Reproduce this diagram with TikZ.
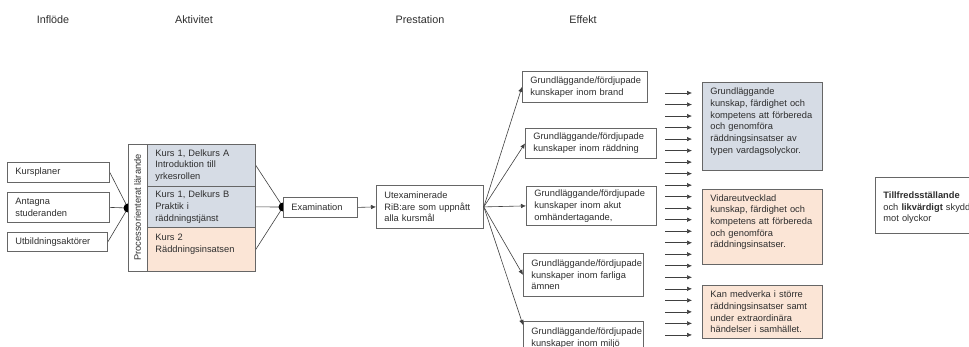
\documentclass[tikz,border=0pt]{standalone}
\usepackage{fontspec}
\setmainfont{Liberation Sans}
\usetikzlibrary{arrows.meta,calc,backgrounds}
\definecolor{bluebox}{HTML}{D6DCE5}
\definecolor{pinkbox}{HTML}{FBE5D6}
\definecolor{edge}{HTML}{666666}
\definecolor{ink}{HTML}{2E2E2E}
\definecolor{wire}{HTML}{404040}
\tikzset{
  bx/.code 2 args={\pgfmathsetmacro\bxw{#1-16}%
    \edef\bxtmp{\noexpand\tikzset{text width=\bxw pt}}\bxtmp
    \tikzset{draw=edge, line width=0.8pt, fill=white, anchor=north west, align=left,
      inner xsep=8pt, inner ysep=0pt, minimum width=#1pt, minimum height=#2pt}},
  hdr/.style={font=\fontsize{10.8}{13}\selectfont},
  arr/.style={draw=wire, line width=0.6pt, -{Latex[length=5pt,width=4.5pt]}},
  wirel/.style={draw=wire, line width=0.6pt},
  knob/.style={fill=black}
}
\begin{document}
\begin{tikzpicture}[x=1pt,y=-1pt,font=\fontsize{9.3}{11.7}\selectfont,text=ink]
\useasboundingbox (0,0) rectangle (969,347);
\clip (0,0) rectangle (969,347);

% headers
\node[hdr] (hInf) at (53,20) {Inflöde};
\node[hdr] (hAkt) at (194,20) {Aktivitet};
\node[hdr] (hPre) at (420,20) {Prestation};
\node[hdr] (hEff) at (583,20) {Effekt};

% inflow
\node[bx={102}{20}] (kp) at (7,162) {Kursplaner};
\node[bx={102}{30}] (as) at (7,192) {Antagna\\studeranden};
\node[bx={100}{19}] (ua) at (7,232) {Utbildningsaktörer};

% activity
\node[draw=edge, line width=0.8pt, fill=white, rotate=90, minimum width=127pt,
      minimum height=19pt, inner sep=0pt] (proc) at (137.5,207.5) {Processorienterat lärande};
\node[bx={108}{42}, fill=bluebox] (c1) at (147,144) {Kurs 1, Delkurs A\\Introduktion till\\yrkesrollen};
\node[bx={108}{41}, fill=bluebox] (c2) at (147,186) {Kurs 1, Delkurs B\\Praktik i\\räddningstjänst};
\node[bx={108}{44}, fill=pinkbox] (c3) at (147,227) {Kurs 2\\Räddningsinsatsen\\\mbox{}};

\coordinate (J1) at (128,208);
\coordinate (J2) at (283,207);

% performance
\node[bx={74}{20}] (ex) at (283,197) {Examination};
\node[bx={107}{43}] (ut) at (376,185) {Utexaminerade\\RiB:are som uppnått\\alla kursmål};

% effect
\node[bx={125}{31}] (e1) at (522,71) {Grundläggande/fördjupade\\kunskaper inom brand};
\node[bx={131}{30}] (e2) at (525,128) {Grundläggande/fördjupade\\kunskaper inom räddning};
\node[bx={130}{39}] (e3) at (526,186) {Grundläggande/fördjupade\\kunskaper inom akut\\omhändertagande,};
\node[bx={120}{43}] (e4) at (523,253) {Grundläggande/fördjupade\\kunskaper inom farliga\\ämnen};
\node[bx={120}{33}] (e5) at (523,321) {Grundläggande/fördjupade\\kunskaper inom miljö};

\node[bx={120}{88}, fill=bluebox] (r1) at (702,82) {Grundläggande\\kunskap, färdighet och\\kompetens att förbereda\\och genomföra\\räddningsinsatser av\\typen vardagsolyckor.\\\mbox{}};
\node[bx={120}{75}, fill=pinkbox] (r2) at (702,189) {Vidareutvecklad\\kunskap, färdighet och\\kompetens att förbereda\\och genomföra\\räddningsinsatser.\\\mbox{}};
\node[bx={120}{53}, fill=pinkbox] (r3) at (702,285) {Kan medverka i större\\räddningsinsatser samt\\under extraordinära\\händelser i samhället.};

\node[bx={130}{56}] (fin) at (875,177) {\mbox{}\\\textbf{Tillfredsställande}\\och \textbf{likvärdigt} skydd\\mot olyckor};

\begin{scope}[on background layer]
  \fill[white] (0,0) rectangle (969,347);
  \draw[wirel] (kp.east) -- (J1);
  \draw[wirel] (as.east) -- (J1);
  \draw[wirel] (ua.east) -- (J1);
  \fill[knob] (J1) circle[radius=4.5pt];
  \draw[wirel] (c1.east) -- (J2);
  \draw[wirel] (c2.east) -- (J2);
  \draw[wirel] (c3.east) -- (J2);
  \fill[knob] (J2) circle[radius=4.5pt];
\end{scope}

\draw[arr] (ex.east) -- (ut.west);
\draw[arr] (ut.east) -- (e1.west);
\draw[arr] (ut.east) -- (e2.west);
\draw[arr] (ut.east) -- (e3.west);
\draw[arr] (ut.east) -- (e4.west);
\draw[arr] (ut.east) -- ($(e5.north west)+(0,4)$);

\foreach \i in {0,...,21}{
  \pgfmathsetmacro\yy{93+\i*11.52}
  \coordinate (a\i) at (665,\yy);
  \coordinate (b\i) at (692,\yy);
  \draw[arr] (a\i) -- (b\i);
}
\end{tikzpicture}
\end{document}
